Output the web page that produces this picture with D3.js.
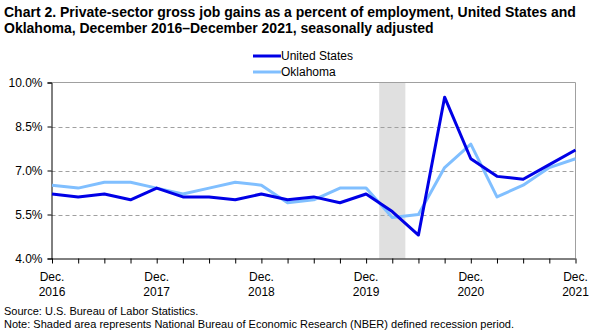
<!DOCTYPE html>
<html><head><meta charset="utf-8">
<script src="https://cdn.jsdelivr.net/npm/d3@7"></script>
<style>
body{margin:0;background:#fff;}
svg{display:block;}
.narrow{font-family:"Liberation Sans Narrow","Arial Narrow",Arial,sans-serif;}
</style></head><body>
<svg id="c" width="602" height="334"></svg>
<script>
const quarters = ["Dec. 2016","Mar. 2017","Jun. 2017","Sep. 2017","Dec. 2017","Mar. 2018","Jun. 2018","Sep. 2018","Dec. 2018","Mar. 2019","Jun. 2019","Sep. 2019","Dec. 2019","Mar. 2020","Jun. 2020","Sep. 2020","Dec. 2020","Mar. 2021","Jun. 2021","Sep. 2021","Dec. 2021"];
const unitedStates = [6.2,6.1,6.2,6.0,6.4,6.1,6.1,6.0,6.2,6.0,6.1,5.9,6.2,5.6,4.8,9.5,7.4,6.8,6.7,7.2,7.7];
const oklahoma = [6.5,6.4,6.6,6.6,6.4,6.2,6.4,6.6,6.5,5.9,6.0,6.4,6.4,5.4,5.5,7.1,7.9,6.1,6.5,7.1,7.4];
const yTicks = [4.0,5.5,7.0,8.5,10.0];
const xLabelIdx = [0,4,8,12,16,20];
const xLabels = [["Dec.","2016"],["Dec.","2017"],["Dec.","2018"],["Dec.","2019"],["Dec.","2020"],["Dec.","2021"]];
const recession = [12.5,13.5];
const title = ["Chart 2. Private-sector gross job gains as a percent of employment, United States and","Oklahoma, December 2016\u2013December 2021, seasonally adjusted"];
const notes = ["Source: U.S. Bureau of Labor Statistics.","Note: Shaded area represents National Bureau of Economic Research (NBER) defined recession period."];

const svg = d3.select("#c");
const L=51.5, R=575.5, T=82.5, B=258.5;
const x = d3.scaleLinear().domain([0,quarters.length-1]).range([L+0.5,R]);
const y = d3.scaleLinear().domain([4,10]).range([B,T]);

// title
svg.append("g").selectAll("text").data(title).join("text")
  .attr("class","narrow").attr("x",4).attr("y",(d,i)=>17+i*16)
  .attr("font-size",14).attr("font-weight","bold").attr("fill","#000").text(d=>d);

// recession band
svg.append("rect").attr("x",x(recession[0])).attr("y",T).attr("width",x(recession[1])-x(recession[0])).attr("height",B-T).attr("fill","#e0e0e0");

// gridlines
svg.append("g").selectAll("line").data(yTicks.filter(v=>v>4&&v<10)).join("line")
  .attr("x1",L).attr("x2",R).attr("y1",d=>Math.round(y(d))+0.5).attr("y2",d=>Math.round(y(d))+0.5)
  .attr("stroke","#a0a0a0").attr("stroke-dasharray","4,3");
// frame top/right
svg.append("path").attr("d",`M${L},${T}H${R}V${B}`).attr("fill","none").attr("stroke","#a0a0a0");

// y axis
const yAxis = d3.axisLeft(y).tickValues(yTicks).tickFormat(d=>d3.format(".1f")(d)+"%").tickSize(4);
const gy = svg.append("g").attr("transform",`translate(${L},0)`).call(yAxis);
gy.select(".domain").attr("stroke","#000");
gy.selectAll(".tick line").attr("stroke","#000");
gy.selectAll(".tick text").attr("font-family","Arial,'Liberation Sans',sans-serif").attr("font-size",12).attr("fill","#000").attr("x",-9);

// x axis
const xAxis = d3.axisBottom(x).tickValues(d3.range(quarters.length)).tickFormat("").tickSize(5).tickSizeOuter(0);
const gx = svg.append("g").attr("transform",`translate(0,${B})`).call(xAxis);
gx.select(".domain").attr("stroke","#000").attr("d",`M${L},0.5H${R}`);
gx.selectAll(".tick line").attr("stroke","#000");
const xl = svg.append("g").selectAll("text").data(xLabelIdx).join("text")
  .attr("x",d=>x(d)).attr("text-anchor","middle").attr("font-family","Arial,'Liberation Sans',sans-serif").attr("font-size",12).attr("fill","#000");
xl.append("tspan").attr("x",d=>x(d)).attr("y",281).text((d,i)=>xLabels[i][0]);
xl.append("tspan").attr("x",d=>x(d)).attr("y",296).text((d,i)=>xLabels[i][1]);

// lines
const line = d3.line().x((d,i)=>x(i)).y(d=>y(d));
svg.append("path").datum(oklahoma).attr("d",line).attr("fill","none").attr("stroke","#80bfff").attr("stroke-width",3).attr("stroke-linejoin","round");
svg.append("path").datum(unitedStates).attr("d",line).attr("fill","none").attr("stroke","#0000e6").attr("stroke-width",3).attr("stroke-linejoin","round");

// legend
const leg = [["United States","#0000e6"],["Oklahoma","#80bfff"]];
const lg = svg.append("g").selectAll("g").data(leg).join("g").attr("transform",(d,i)=>`translate(253,${56+i*16})`);
lg.append("line").attr("x1",0).attr("x2",28).attr("stroke",d=>d[1]).attr("stroke-width",3);
lg.append("text").attr("x",28).attr("y",4).attr("font-family","Arial,'Liberation Sans',sans-serif").attr("font-size",12).attr("fill","#000").text(d=>d[0]);

// notes
svg.append("g").selectAll("text").data(notes).join("text")
  .attr("class","narrow").attr("x",4).attr("y",(d,i)=>315+i*13)
  .attr("font-size",11).attr("fill","#000").text(d=>d);
</script></body></html>
